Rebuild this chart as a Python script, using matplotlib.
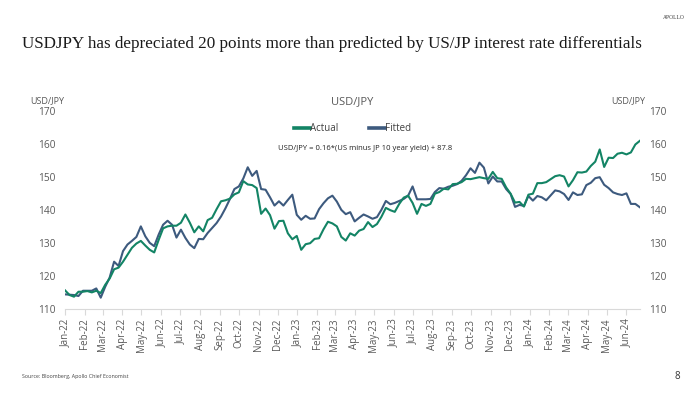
import matplotlib
matplotlib.use("Agg")
import matplotlib.pyplot as plt
import matplotlib.dates as mdates
import pandas as pd

# --- data (weekly) ---
dates = pd.date_range("2022-01-07", periods=130, freq="7D")

actual = [
    115.6, 114.2, 113.7, 115.2, 115.2, 115.4, 115.0, 115.5, 114.8, 117.3,
    119.2, 122.0, 122.5, 124.3, 126.4, 128.5, 129.8, 130.6, 129.2, 127.9,
    127.1, 130.9, 134.4, 135.0, 135.2, 135.2, 136.1, 138.6, 136.1, 133.2,
    135.0, 133.5, 136.9, 137.6, 140.2, 142.6, 142.9, 143.4, 144.7, 145.3,
    148.7, 147.7, 147.5, 146.6, 138.8, 140.4, 138.4, 134.3, 136.6, 136.7,
    132.9, 131.1, 132.1, 127.9, 129.6, 129.9, 131.2, 131.4, 134.1, 136.4,
    135.9, 135.0, 131.8, 130.7, 132.9, 132.2, 133.7, 134.2, 136.3, 134.8,
    135.7, 137.9, 140.6, 139.9, 139.4, 141.8, 143.7, 144.3, 142.1, 138.8,
    141.8, 141.2, 141.8, 144.9, 145.4, 146.4, 146.2, 147.8, 147.9, 148.4,
    149.4, 149.3, 149.6, 149.9, 149.6, 149.4, 151.5, 149.6, 149.4, 146.8,
    144.9, 142.2, 142.4, 141.0, 144.6, 144.9, 148.1, 148.1, 148.4, 149.3,
    150.2, 150.5, 150.1, 147.1, 149.0, 151.4, 151.3, 151.6, 153.3, 154.6,
    158.3, 153.0, 155.8, 155.7, 157.0, 157.3, 156.8, 157.4, 159.8, 160.9,
]

fitted = [
    114.4, 114.3, 114.2, 113.9, 115.5, 115.5, 115.5, 116.2, 113.4, 116.7,
    119.5, 124.3, 123.0, 127.5, 129.5, 130.6, 131.8, 135.0, 132.0, 130.0,
    129.0, 132.5, 135.5, 136.7, 135.5, 131.6, 134.0, 131.5, 129.5, 128.4,
    131.2, 131.1, 133.0, 134.5, 136.0, 138.0, 140.5, 143.3, 146.3, 147.1,
    149.5, 152.9, 150.3, 151.8, 146.3, 146.1, 143.8, 141.3, 142.6, 141.3,
    143.0, 144.6, 138.5, 137.0, 138.2, 137.3, 137.4, 140.2, 142.0, 143.5,
    144.3, 142.5, 140.0, 138.7, 139.3, 136.5, 137.6, 138.6, 138.0, 137.3,
    137.8, 140.0, 142.7, 141.7, 142.1, 142.7, 143.3, 144.3, 147.1, 143.2,
    143.2, 143.2, 143.3, 145.4, 146.6, 146.4, 147.0, 147.3, 147.8, 148.8,
    150.5, 152.6, 151.2, 154.3, 152.8, 148.0, 150.1, 148.6, 148.6, 146.3,
    144.8, 140.9, 141.5, 141.2, 144.2, 142.8, 144.2, 143.8, 142.9, 144.4,
    145.9, 145.6, 144.8, 143.0, 145.3, 144.5, 144.7, 147.5, 148.2, 149.6,
    149.9, 147.6, 146.6, 145.3, 144.8, 144.5, 145.0, 141.8, 141.8, 140.8,
]

# month ticks fall on the 7th, same day as the first observation
month_ticks = pd.date_range("2022-01-01", "2024-06-01", freq="MS") + pd.Timedelta(days=6)
y_ticks = [110, 120, 130, 140, 150, 160, 170]

GREEN = "#138465"
BLUE = "#3d5a7e"
GREY = "#595959"
SANS = ["Open Sans", "DejaVu Sans"]

fig = plt.figure(figsize=(7, 3.93), dpi=100)
ax = fig.add_axes([0.093, 0.214, 0.821, 0.504])

ax.plot(dates, actual, color=GREEN, lw=1.5, label="Actual", zorder=3)
ax.plot(dates, fitted, color=BLUE, lw=1.5, label="Fitted", zorder=2)

ax.set_xlim(dates[0], dates[-1])
ax.set_ylim(110, 170)
ax.set_yticks(y_ticks)
ax.set_xticks(month_ticks)
ax.xaxis.set_major_formatter(mdates.DateFormatter("%b-%y"))

for s in ["top", "left", "right"]:
    ax.spines[s].set_visible(False)
ax.spines["bottom"].set_color("#d9d9d9")
ax.tick_params(axis="x", colors="#d9d9d9", length=4, width=0.8,
               labelcolor=GREY, labelsize=7, labelrotation=90, pad=3)
ax.tick_params(axis="y", length=0, labelcolor=GREY, labelsize=7.3, pad=7,
               labelleft=True, labelright=True)
for lbl in ax.get_xticklabels() + ax.get_yticklabels():
    lbl.set_family(SANS)

leg = ax.legend(loc="center", bbox_to_anchor=(0.5, 0.91), ncol=2, frameon=False,
                handlelength=1.6, handletextpad=0.0, columnspacing=3.2,
                prop={"family": SANS, "size": 7})
for h in leg.get_lines():
    h.set_linewidth(2.6)
for t in leg.get_texts():
    t.set_color("#404040")

ax.text(0.522, 0.808, "USD/JPY = 0.16*(US minus JP 10 year yield) + 87.8",
        transform=ax.transAxes, ha="center", va="center", fontsize=5.5,
        color="#222222", family=SANS)

# texts around the plot
fig.text(0.503, 0.742, "USD/JPY", ha="center", va="center", fontsize=8,
         color=GREY, family=SANS)
fig.text(0.068, 0.745, "USD/JPY", ha="center", va="center", fontsize=6.5,
         color=GREY, family=SANS)
fig.text(0.897, 0.745, "USD/JPY", ha="center", va="center", fontsize=6.5,
         color=GREY, family=SANS)
fig.text(0.031, 0.888, "USDJPY has depreciated 20 points more than predicted by US/JP interest rate differentials",
         ha="left", va="center", fontsize=12.35, color="#1a1a1a",
         family=["Liberation Serif", "DejaVu Serif"])
fig.text(0.962, 0.955, "APOLLO", ha="center", va="center", fontsize=4,
         color="#333333", family=["Liberation Serif", "DejaVu Serif"])
fig.text(0.031, 0.043, "Source: Bloomberg, Apollo Chief Economist", ha="left",
         va="center", fontsize=3.8, color="#404040", family=SANS)
fig.text(0.967, 0.041, "8", ha="center", va="center", fontsize=7,
         color="#333333", family=SANS)

fig.savefig("out.png", dpi=100, facecolor="white")
